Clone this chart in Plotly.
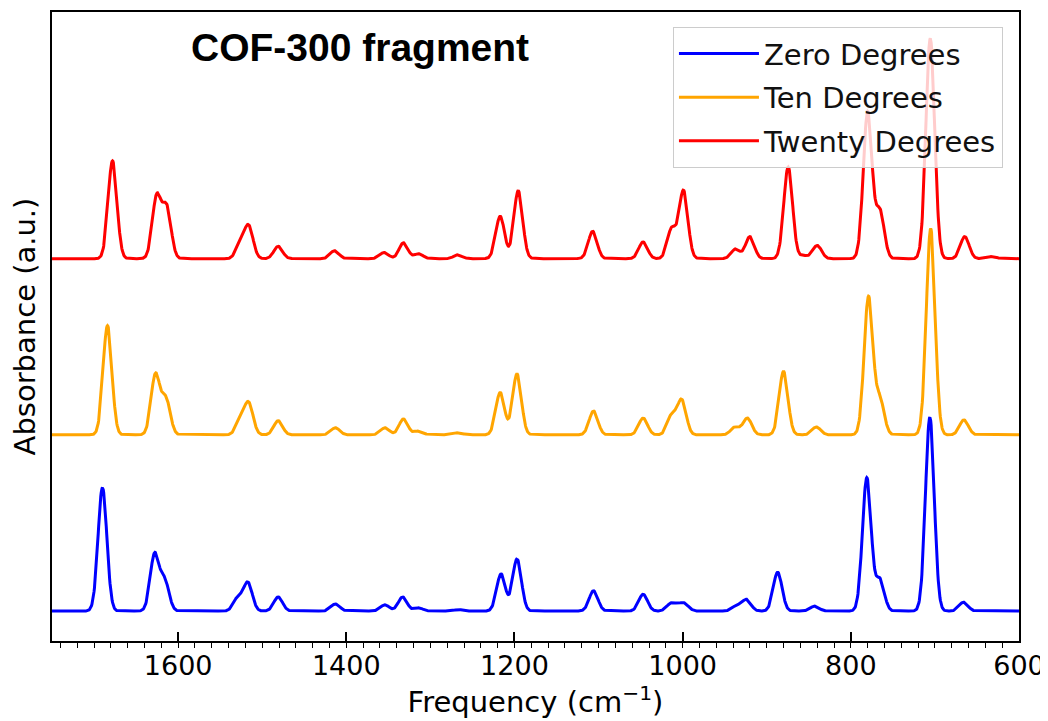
import numpy as np
import plotly.graph_objects as go

# ---- data: IR peak lists (frequency cm^-1, absorbance a.u.) ----
series_names = ["Zero Degrees", "Ten Degrees", "Twenty Degrees"]
series_colors = ["blue", "orange", "red"]
series_offsets = [0.0, 1.0, 2.0]

zero_pos = [1690, 1628, 1616, 1529, 1517, 1481, 1413, 1354, 1333, 1314, 1267, 1216, 1197,
            1106, 1047, 1014, 1006, 998, 936, 924, 887, 843, 781, 765.5, 706, 666]
zero_amp = [0.70, 0.32, 0.17, 0.075, 0.16, 0.08, 0.04, 0.035, 0.08, 0.018, 0.008, 0.21, 0.295,
            0.115, 0.095, 0.04, 0.02, 0.04, 0.03, 0.065, 0.22, 0.028, 0.755, 0.18, 1.10, 0.05]

ten_pos = [1684, 1627, 1614.5, 1526, 1516, 1481, 1413, 1354, 1332, 1314, 1267, 1217, 1197,
           1106, 1047, 1013, 1001, 937.5, 923, 880, 841, 779, 765.5, 705, 665.5]
ten_amp = [0.62, 0.34, 0.20, 0.08, 0.175, 0.08, 0.04, 0.04, 0.09, 0.022, 0.012, 0.24, 0.345,
           0.135, 0.095, 0.11, 0.195, 0.045, 0.095, 0.36, 0.045, 0.78, 0.20, 1.17, 0.085]

twenty_pos = [1678, 1625.5, 1613.5, 1526, 1516, 1481, 1414, 1355, 1332, 1314, 1267, 1217, 1195.5,
              1107, 1047, 1013, 999, 937, 920, 874.5, 856, 840, 780, 765.5, 705.5, 664.5, 632]
twenty_amp = [0.555, 0.35, 0.285, 0.08, 0.18, 0.07, 0.045, 0.035, 0.09, 0.028, 0.022, 0.24, 0.385,
              0.155, 0.095, 0.17, 0.385, 0.055, 0.125, 0.52, 0.017, 0.075, 0.83, 0.27, 1.25, 0.125, 0.012]

peak_sigma = 5.2  # Gaussian broadening (cm^-1)
x_range = [1750, 600]
tick_values = [1600, 1400, 1200, 1000, 800, 600]

freq = np.linspace(600, 1750, 2301)


def spectrum(pos, amp):
    p = np.asarray(pos, dtype=float)[:, None]
    a = np.asarray(amp, dtype=float)[:, None]
    return (a * np.exp(-0.5 * ((freq[None, :] - p) / peak_sigma) ** 2)).sum(axis=0)


peak_lists = [(zero_pos, zero_amp), (ten_pos, ten_amp), (twenty_pos, twenty_amp)]

fig = go.Figure()
for i, ((pos, amp), name, color, off) in enumerate(zip(peak_lists, series_names, series_colors, series_offsets)):
    fig.add_trace(go.Scatter(
        x=freq, y=spectrum(pos, amp) + off, mode="lines", name=name,
        line=dict(color=color, width=3), legendgroup=f"g{i}",
    ))

# page body adds an 8px margin, so the figure is 1040x713 and sits at (8, 8)
fig.update_layout(
    width=1040, height=713, autosize=False,
    margin=dict(l=44, r=29, t=4, b=80),
    plot_bgcolor="white", paper_bgcolor="white",
    font=dict(family="DejaVu Sans", size=27, color="black"),
    showlegend=True,
    legend=dict(
        x=0.9834, y=0.976, xanchor="right", yanchor="top",
        bgcolor="rgba(255,255,255,0.8)", bordercolor="#cccccc", borderwidth=1,
        font=dict(family="DejaVu Sans", size=29, color="#111111"),
        tracegroupgap=3, itemwidth=80,
    ),
    annotations=[dict(
        text="<b>COF-300 fragment</b>", x=0.3185, y=0.944, xref="paper", yref="paper",
        xanchor="center", yanchor="middle", showarrow=False,
        font=dict(family="Liberation Sans, Arial", size=39, color="black"),
    )],
)

fig.update_xaxes(
    range=x_range, tickvals=tick_values, ticks="inside", ticklen=9, tickwidth=1.5, tickcolor="black",
    minor=dict(dtick=20, tick0=0, ticks="outside", ticklen=5, tickwidth=1.2, tickcolor="black"),
    showline=True, linecolor="black", linewidth=1.5, mirror=True, showgrid=False, zeroline=False,
    tickfont=dict(family="DejaVu Sans", size=27), automargin=False,
    title=dict(text="Frequency (cm<sup>−1</sup>)", font=dict(family="DejaVu Sans", size=29), standoff=12),
)
fig.update_yaxes(
    range=[-0.17, 3.40], showticklabels=False, ticks="", automargin=False,
    showline=True, linecolor="black", linewidth=1.5, mirror=True, showgrid=False, zeroline=False,
    title=dict(text="Absorbance (a.u.)", font=dict(family="DejaVu Sans", size=29), standoff=6),
)

fig.write_html("out.html")
